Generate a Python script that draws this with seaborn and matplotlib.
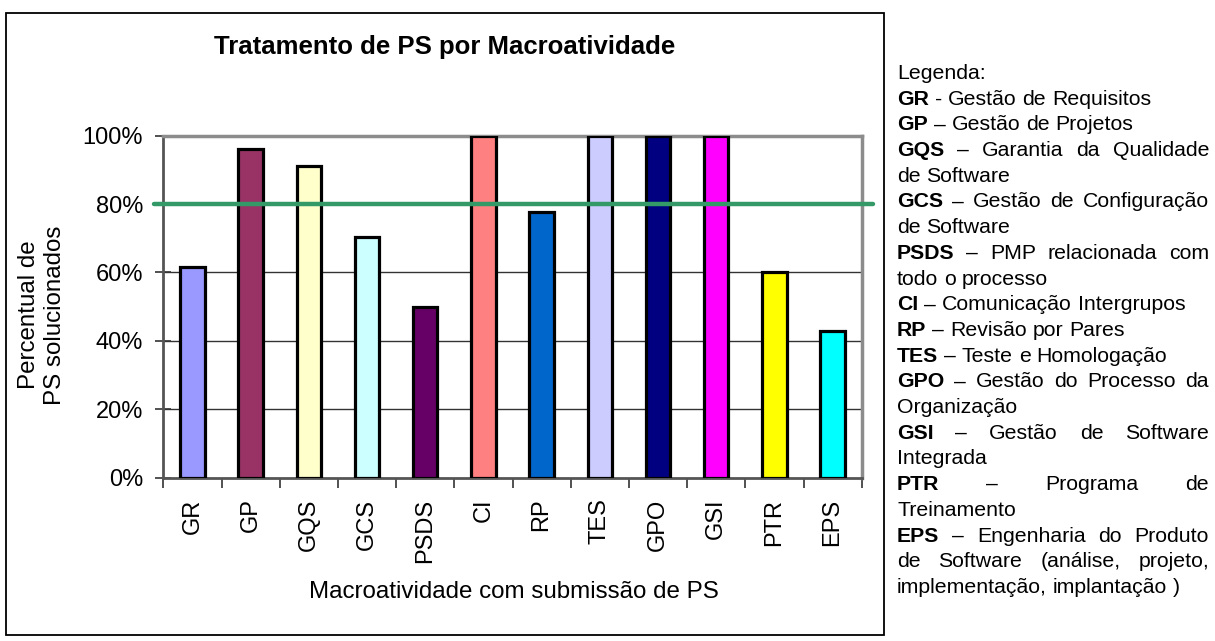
import matplotlib
matplotlib.use("Agg")
import matplotlib.pyplot as plt
import matplotlib.patches as mpatches
from matplotlib.ticker import PercentFormatter, FixedLocator
import seaborn as sns
import pandas as pd

# ---------------- data ----------------
categories = ["GR", "GP", "GQS", "GCS", "PSDS", "CI", "RP", "TES", "GPO", "GSI", "PTR", "EPS"]
solved_pct = [0.615, 0.96, 0.91, 0.705, 0.50, 1.00, 0.778, 1.00, 1.00, 1.00, 0.60, 0.43]
bar_colors = ["#9999FF", "#993366", "#FFFFCC", "#CCFFFF", "#660066", "#FF8080",
              "#0066CC", "#CCCCFF", "#000080", "#FF00FF", "#FFFF00", "#00FFFF"]
target = 0.80
y_ticks = [0.0, 0.2, 0.4, 0.6, 0.8, 1.0]

title = "Tratamento de PS por Macroatividade"
x_label = "Macroatividade com submissão de PS"
y_label = "Percentual de\nPS solucionados"

legend_title = "Legenda:"
legend_abbr = ["GR", "GP", "GQS", "GCS", "PSDS", "CI", "RP", "TES", "GPO", "GSI", "PTR", "EPS"]
legend_sep = ["-", "–", "–", "–", "–", "–", "–", "–", "–", "–", "–", "–"]
legend_desc = [
    "Gestão de Requisitos",
    "Gestão de Projetos",
    "Garantia da Qualidade\nde Software",
    "Gestão de Configuração\nde Software",
    "PMP relacionada com\ntodo o processo",
    "Comunicação Intergrupos",
    "Revisão por Pares",
    "Teste e Homologação",
    "Gestão do Processo da\nOrganização",
    "Gestão de Software\nIntegrada",
    "Programa de\nTreinamento",
    "Engenharia do Produto\nde Software (análise, projeto,\nimplementação, implantação )",
]

# ---------------- figure ----------------
W, H, DPI = 1215, 641, 100
sns.set_theme(style="white")
plt.rcParams["font.family"] = ["Liberation Sans", "DejaVu Sans"]
plt.rcParams["text.color"] = "black"
plt.rcParams["axes.labelcolor"] = "black"
plt.rcParams["xtick.color"] = "black"
plt.rcParams["ytick.color"] = "black"

fig = plt.figure(figsize=(W / DPI, H / DPI), dpi=DPI)
fig.patch.set_facecolor("white")

def fx(px):
    return px / W

def fy(py):
    return 1 - py / H

ax_left, ax_right, ax_top, ax_bottom = 163.3, 861.7, 135.7, 477.7
ax = fig.add_axes([fx(ax_left), fy(ax_bottom), (ax_right - ax_left) / W, (ax_bottom - ax_top) / H])

df = pd.DataFrame({"cat": categories, "val": solved_pct})
sns.barplot(data=df, x="cat", y="val", hue="cat", palette=bar_colors, order=categories,
            hue_order=categories, width=0.42, edgecolor="black", linewidth=2.3,
            saturation=1, legend=False, ax=ax, zorder=3)

ax.set_xlim(-0.5, len(categories) - 0.5)
ax.set_ylim(0, 1)
ax.yaxis.set_major_locator(FixedLocator(y_ticks))
ax.yaxis.set_major_formatter(PercentFormatter(1.0, decimals=0))
ax.set_axisbelow(True)
ax.grid(False)
for yt in y_ticks[1:-1]:
    ax.axhline(yt, color="#333333", lw=1.0, zorder=1)

# threshold line (extends slightly beyond the plot area, as in the original)
ax.axhline(target, xmin=-0.0135, xmax=1.016, color="#339966", lw=3.2, zorder=5, clip_on=False)

# spines
for s in ["left", "bottom"]:
    ax.spines[s].set_color("#555555")
    ax.spines[s].set_linewidth(2)
for s in ["top", "right"]:
    ax.spines[s].set_color("#8c8c8c")
    ax.spines[s].set_linewidth(2.5)

# ticks
ax.set_xlabel("")
ax.set_ylabel("")
ax.tick_params(axis="x", which="major", length=0, pad=15, labelsize=17, labelrotation=90,
               labelcolor="black")
ax.set_xticks([i - 0.5 for i in range(len(categories) + 1)], minor=True)
ax.tick_params(axis="x", which="minor", direction="out", length=7, width=1.2, color="#333333",
               bottom=True)
ax.tick_params(axis="y", which="major", direction="inout", length=11, width=1.2, color="#333333",
               pad=9, labelsize=17, labelcolor="black", left=True)
for lab in ax.get_xticklabels():
    lab.set_verticalalignment("top")

# titles
fig.text(fx(445), fy(47), title, ha="center", va="center", fontsize=18.5, fontweight="bold",
         color="black")
fig.text(fx(514), fy(592), x_label, ha="center", va="center", fontsize=17.4, color="black")
fig.text(fx(42), fy(315), y_label, ha="center", va="center", rotation=90, fontsize=17.4,
         linespacing=1.2, color="black")

# outer chart border
fig.patches.append(mpatches.Rectangle((fx(6), fy(635)), (884 - 6) / W, (635 - 13) / H,
                                      transform=fig.transFigure, fill=False,
                                      edgecolor="black", linewidth=1.3))

# ---------------- justified legend text ----------------
renderer = fig.canvas.get_renderer()
LFS = 15.3
L_LEFT, L_RIGHT = 897.0, 1209.0
L_BASE0, L_STEP = 79.0, 25.7
space_px = 0.278 * LFS * DPI / 72

def measure(word, bold):
    t = fig.text(0, 0, word, fontsize=LFS, fontweight="bold" if bold else "normal")
    w = t.get_window_extent(renderer).width
    t.remove()
    return w

lines = [([(legend_title, False)], False)]
for abbr, sep, desc in zip(legend_abbr, legend_sep, legend_desc):
    parts = desc.split("\n")
    for k, part in enumerate(parts):
        words = [(w, False) for w in part.split(" ")]
        if k == 0:
            words = [(abbr, True), (sep, False)] + words
        justify = k < len(parts) - 1
        lines.append((words, justify))

for li, (words, justify) in enumerate(lines):
    widths = [measure(w, b) for w, b in words]
    if justify and len(words) > 1:
        gap = (L_RIGHT - L_LEFT - sum(widths)) / (len(words) - 1)
    else:
        gap = space_px
    x = L_LEFT
    yb = L_BASE0 + li * L_STEP
    for (w, b), wd in zip(words, widths):
        fig.text(fx(x), fy(yb), w, fontsize=LFS, fontweight="bold" if b else "normal",
                 ha="left", va="baseline", color="black")
        x += wd + gap

fig.savefig("out.png", dpi=DPI, facecolor="white")
